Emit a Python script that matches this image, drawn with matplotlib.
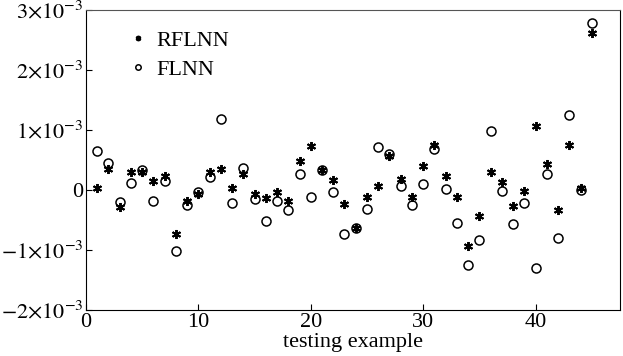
import numpy as np
import matplotlib
matplotlib.use('Agg')
import matplotlib.pyplot as plt

plt.rcParams['font.family'] = ['Liberation Serif', 'DejaVu Serif']
plt.rcParams['mathtext.fontset'] = 'stix'

idx = list(range(1, 46))

# values in units of 1e-3
rflnn = [0.03, 0.35, -0.28, 0.305, 0.295, 0.155, 0.233, -0.74, -0.178, -0.067,
         0.295, 0.35, 0.04, 0.267, -0.067, -0.14, -0.04, -0.18, 0.478, 0.733,
         0.34, 0.167, -0.233, -0.633, -0.122, 0.067, 0.572, 0.183, -0.11, 0.406,
         0.75, 0.239, -0.11, -0.928, -0.439, 0.306, 0.139, -0.261, -0.017, 1.072,
         0.433, -0.333, 0.744, 0.039, 2.62]
flnn = [0.655, 0.45, -0.195, 0.11, 0.333, -0.183, 0.15, -1.02, -0.255, -0.028,
        0.222, 1.183, -0.21, 0.372, -0.155, -0.52, -0.19, -0.34, 0.267, -0.11,
        0.34, -0.033, -0.733, -0.633, -0.31, 0.71, 0.594, 0.072, -0.244, 0.094,
        0.683, 0.017, -0.55, -1.256, -0.839, 0.989, -0.017, -0.572, -0.211, -1.3,
        0.267, -0.8, 1.25, -0.006, 2.79]

yticks = [-2, -1, 0, 1, 2, 3]
ylabels = [r'$-2{\times}10^{-3}$', r'$-1{\times}10^{-3}$', '0',
           r'$1{\times}10^{-3}$', r'$2{\times}10^{-3}$', r'$3{\times}10^{-3}$']

fig = plt.figure(figsize=(6.23, 3.56), dpi=100)
ax = fig.add_axes([0.138, 0.129, 0.857, 0.843])

ax.plot(idx, rflnn, linestyle='none', marker=(6, 2, 0), markersize=6.5,
        markeredgewidth=1.4, color='black', label='RFLNN')
ax.plot(idx, flnn, linestyle='none', marker='o', markersize=6.5,
        markerfacecolor='none', markeredgewidth=1.1, color='black', label='FLNN')

ax.set_xlim(0, 47.5)
ax.set_ylim(-2, 3)
ax.set_xticks([0, 10, 20, 30, 40])
ax.set_yticks(yticks)
ax.set_yticklabels(ylabels)
ax.tick_params(direction='in', length=4, labelsize=16, top=False, right=False,
               pad=2)
ax.set_xlabel('testing example', fontsize=16, labelpad=1)
ax.set_ylabel('error', fontsize=16, labelpad=-2)
ax.spines['top'].set_color('#555555')

ax.legend(loc='upper left', frameon=False, fontsize=16, markerscale=0.6,
          handletextpad=0.3, handlelength=1.0, labelspacing=0.4,
          bbox_to_anchor=(0.04, 1.0))

fig.savefig('out.png', dpi=100)
